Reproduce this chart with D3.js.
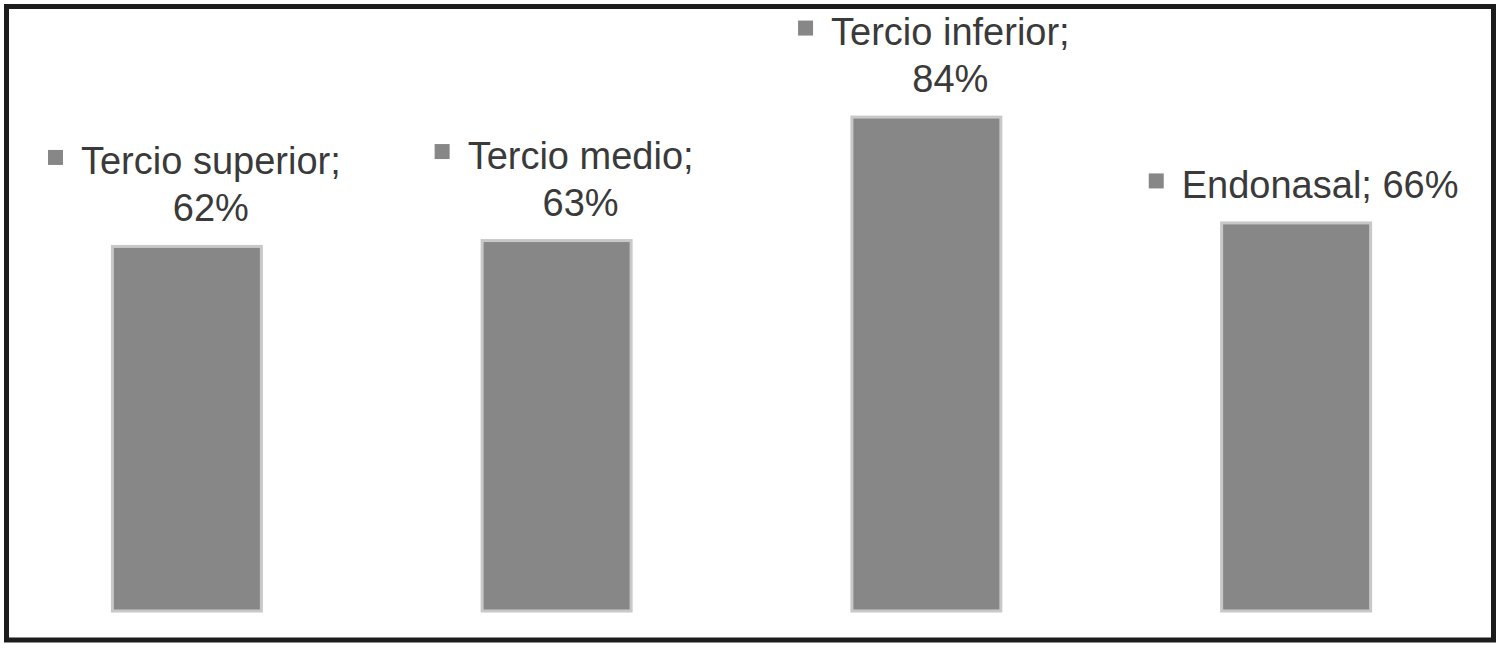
<html>
<head>
<meta charset='UTF-8'>
<title>Localizacion</title>
<script src='https://d3js.org/d3.v7.min.js'></script>
<style>
    body { margin: 0; background: #fff; }
    .lbl { font-family: 'Liberation Sans', Arial, sans-serif; font-size: 38px; fill: #3a3a3a; }
</style>
</head>
<body>
<svg id='chart' width='1500' height='648'></svg>

<script type='text/javascript'>
    // data
    var categories = ['Tercio superior', 'Tercio medio', 'Tercio inferior', 'Endonasal'];
    var values = [62, 63, 84, 66];

    var width = 1500,
        height = 648;

    var svg = d3.select('#chart');

    // frame around the whole figure
    svg.append('rect')
       .attr('x', 6.5)
       .attr('y', 6.5)
       .attr('width', width - 13)
       .attr('height', height - 14.5)
       .attr('fill', 'none')
       .attr('stroke', '#1c1c1c')
       .attr('stroke-width', 5);

    var x = d3.scaleBand()
              .domain(categories)
              .range([2, 1481])
              .paddingInner(0.589)
              .paddingOuter(0.2945);

    var y = d3.scaleLinear()
              .domain([0, 100])
              .range([611, 23]);

    var data = categories.map(function(c, i) { return { cat: c, val: values[i] }; });

    svg.selectAll('.bar')
       .data(data)
       .enter()
       .append('rect')
         .attr('class', 'bar')
         .attr('x', function(d) { return x(d.cat) + 1.5; })
         .attr('y', function(d) { return y(d.val); })
         .attr('width', x.bandwidth() - 3)
         .attr('height', function(d) { return y(0) - y(d.val); })
         .attr('fill', '#878787')
         .attr('stroke', '#c8c8c8')
         .attr('stroke-width', 3);

    // data labels: legend key + "category; value%", wrapped when too long
    var lineGap = 47,
        keySize = 15,
        keyGap = 18,
        maxWidth = 295;

    data.forEach(function(d) {
        var g = svg.append('g');
        var cx = x(d.cat) + x.bandwidth() / 2 + 24;
        var full = d.cat + '; ' + d.val + '%';

        var probe = g.append('text').attr('class', 'lbl').text(full);
        var lines = probe.node().getComputedTextLength() > maxWidth
                    ? [d.cat + ';', d.val + '%']
                    : [full];
        probe.remove();

        var lastBase = y(d.val) - 25;
        var texts = lines.map(function(s, i) {
            return g.append('text')
                    .attr('class', 'lbl')
                    .attr('x', cx)
                    .attr('y', lastBase - (lines.length - 1 - i) * lineGap)
                    .attr('text-anchor', 'middle')
                    .text(s);
        });

        var firstW = texts[0].node().getComputedTextLength();
        var firstBase = lastBase - (lines.length - 1) * lineGap;
        g.append('rect')
         .attr('x', cx - firstW / 2 - keyGap - keySize)
         .attr('y', firstBase - 17 - keySize / 2)
         .attr('width', keySize)
         .attr('height', keySize)
         .attr('fill', '#878787');
    });
</script>
</body>
</html>
